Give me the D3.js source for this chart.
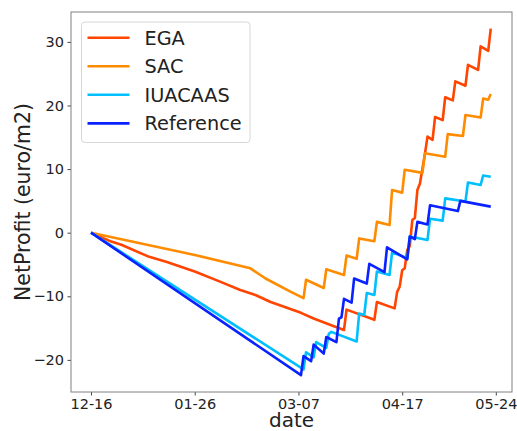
<!DOCTYPE html>
<html>
<head>
<meta charset="utf-8">
<script src="https://cdn.jsdelivr.net/npm/d3@7"></script>
<style>
  body { margin: 0; background: #fff; }
  text { font-family: "DejaVu Sans", sans-serif; }
</style>
</head>
<body>
<div id="chart"></div>
<script>
// data: day offsets from 12-16 and net profit values
var startDate = new Date(2019, 11, 16);

var egaDays = [0, 8, 12, 23, 30, 41, 51, 59, 65, 71, 83, 88, 96, 100, 101, 112, 113, 120, 121, 122, 123, 124, 125, 126, 127, 128, 129, 130, 132, 133, 135, 136, 139, 140, 143, 144, 148, 149, 153, 154, 157, 158];
var egaValues = [0, -1.4, -1.9, -3.8, -4.6, -6.1, -7.7, -9.0, -9.8, -10.9, -12.6, -13.5, -14.7, -15.3, -12.1, -13.7, -10.9, -11.9, -9.3, -8.5, -5.9, -5.6, -2.7, -2.1, 2.0, 2.3, 6.7, 7.7, 12.4, 15.1, 14.6, 18.2, 17.7, 21.3, 20.8, 23.8, 23.1, 26.4, 25.6, 29.3, 28.6, 32.1];

var sacDays = [0, 41, 63, 69, 79, 84, 85, 92, 93, 100, 101, 105, 106, 112, 113, 118, 119, 123, 124, 131, 132, 140, 141, 147, 148, 154, 155, 157, 158];
var sacValues = [0, -3.5, -5.6, -7.2, -9.3, -10.3, -7.4, -8.7, -5.75, -6.65, -3.6, -4.1, -0.9, -1.35, 1.7, 1.2, 6.7, 6.3, 9.9, 9.4, 12.5, 11.95, 15.5, 15.2, 18.5, 18.1, 21.1, 20.9, 21.8];

var iuaDays = [0, 84, 85, 88, 89, 93, 94, 95, 105, 106, 108, 109, 112, 113, 118, 119, 125, 126, 133, 134, 139, 140, 148, 149, 154, 155, 158];
var iuaValues = [0, -21.5, -18.8, -19.6, -17.2, -18.1, -15.9, -15.6, -17.1, -12.7, -12.9, -9.5, -9.8, -6.1, -6.65, -3.1, -4.0, -0.6, -1.15, 2.2, 1.9, 5.4, 4.9, 7.9, 7.5, 9.0, 8.8];

var refDays = [0, 83, 84, 87, 88, 92, 93, 97, 98, 99, 100, 103, 104, 109, 110, 116, 117, 125, 126, 128, 129, 133, 134, 145, 146, 158];
var refValues = [0, -22.4, -19.4, -20.2, -17.6, -19.0, -16.4, -17.2, -13.5, -13.3, -10.4, -11.0, -7.2, -8.0, -4.9, -6.2, -2.3, -4.2, -0.6, -1.0, 1.7, 1.3, 4.3, 3.4, 5.0, 4.1];

var seriesNames = ["EGA", "SAC", "IUACAAS", "Reference"];
var seriesColors = ["#ff4500", "#ff8c00", "#00bfff", "#0a22ff"];
var xTickLabels = ["12-16", "01-26", "03-07", "04-17", "05-24"];
var yTickValues = [-20, -10, 0, 10, 20, 30];

var width = 517, height = 431;
var plot = {left: 71, top: 12, right: 512, bottom: 392};

function dayToDate(d) {
    return d3.timeDay.offset(startDate, d);
}
function labelToDate(s) {
    var p = s.split("-");
    var year = +p[0] === 12 ? 2019 : 2020;
    return new Date(year, +p[0] - 1, +p[1]);
}

var series = [
    {name: seriesNames[0], days: egaDays, values: egaValues},
    {name: seriesNames[1], days: sacDays, values: sacValues},
    {name: seriesNames[2], days: iuaDays, values: iuaValues},
    {name: seriesNames[3], days: refDays, values: refValues}
].map(function (s, i) {
    return {
        name: s.name,
        color: seriesColors[i],
        points: s.days.map(function (d, j) { return {date: dayToDate(d), value: s.values[j]}; })
    };
});

var x = d3.scaleTime()
    .domain([new Date(startDate.getTime() - 7.9 * 864e5), new Date(startDate.getTime() + 166.4 * 864e5)])
    .range([plot.left, plot.right]);
var y = d3.scaleLinear()
    .domain([-25.05, 34.7])
    .range([plot.bottom, plot.top]);

var svg = d3.select("#chart").append("svg")
    .attr("width", width)
    .attr("height", height);

svg.append("defs").append("clipPath")
    .attr("id", "clip")
    .append("rect")
    .attr("x", plot.left).attr("y", plot.top)
    .attr("width", plot.right - plot.left).attr("height", plot.bottom - plot.top);

var line = d3.line()
    .x(function (d) { return x(d.date); })
    .y(function (d) { return y(d.value); });

svg.append("g")
    .attr("clip-path", "url(#clip)")
  .selectAll("path")
    .data(series)
  .enter().append("path")
    .attr("d", function (d) { return line(d.points); })
    .attr("fill", "none")
    .attr("stroke", function (d) { return d.color; })
    .attr("stroke-width", 2.6)
    .attr("stroke-linejoin", "round");

// axes
var xAxis = d3.axisBottom(x)
    .tickValues(xTickLabels.map(labelToDate))
    .tickFormat(d3.timeFormat("%m-%d"))
    .tickSizeInner(3.5).tickSizeOuter(0).tickPadding(3);
var yAxis = d3.axisLeft(y)
    .tickValues(yTickValues)
    .tickSizeInner(3.5).tickSizeOuter(0).tickPadding(3.5);

var gx = svg.append("g")
    .attr("transform", "translate(0," + plot.bottom + ")")
    .call(xAxis);
var gy = svg.append("g")
    .attr("transform", "translate(" + plot.left + ",0)")
    .call(yAxis);

[gx, gy].forEach(function (g) {
    g.select(".domain").remove();
    g.selectAll(".tick line").attr("stroke", "#444");
    g.selectAll(".tick text")
        .attr("fill", "#222")
        .style("font-size", "14.5px")
        .style("font-family", "'DejaVu Sans', sans-serif");
});

// frame
svg.append("rect")
    .attr("x", plot.left).attr("y", plot.top)
    .attr("width", plot.right - plot.left).attr("height", plot.bottom - plot.top)
    .attr("fill", "none")
    .attr("stroke", "#808080")
    .attr("stroke-width", 1);

svg.append("text")
    .attr("x", (plot.left + plot.right) / 2)
    .attr("y", 426.5)
    .attr("text-anchor", "middle")
    .attr("fill", "#222")
    .style("font-size", "20px")
    .text("date");

svg.append("text")
    .attr("transform", "translate(30," + ((plot.top + plot.bottom) / 2) + ") rotate(-90)")
    .attr("text-anchor", "middle")
    .attr("fill", "#222")
    .style("font-size", "20.5px")
    .text("NetProfit (euro/m2)");

// legend
var legend = svg.append("g");
legend.append("rect")
    .attr("x", 81.5).attr("y", 22)
    .attr("width", 168.5).attr("height", 120.5)
    .attr("rx", 3.5)
    .attr("fill", "#fff").attr("fill-opacity", 0.8)
    .attr("stroke", "#d6d6d6");

var item = legend.selectAll(".item")
    .data(series)
  .enter().append("g")
    .attr("class", "item")
    .attr("transform", function (d, i) { return "translate(0," + (37.7 + i * 28.55) + ")"; });

item.append("line")
    .attr("x1", 87.5).attr("x2", 129.5)
    .attr("stroke", function (d) { return d.color; })
    .attr("stroke-width", 2.6);

item.append("text")
    .attr("x", 144.5)
    .attr("dy", "0.36em")
    .attr("fill", "#222")
    .style("font-size", "19.3px")
    .text(function (d) { return d.name; });
</script>
</body>
</html>
